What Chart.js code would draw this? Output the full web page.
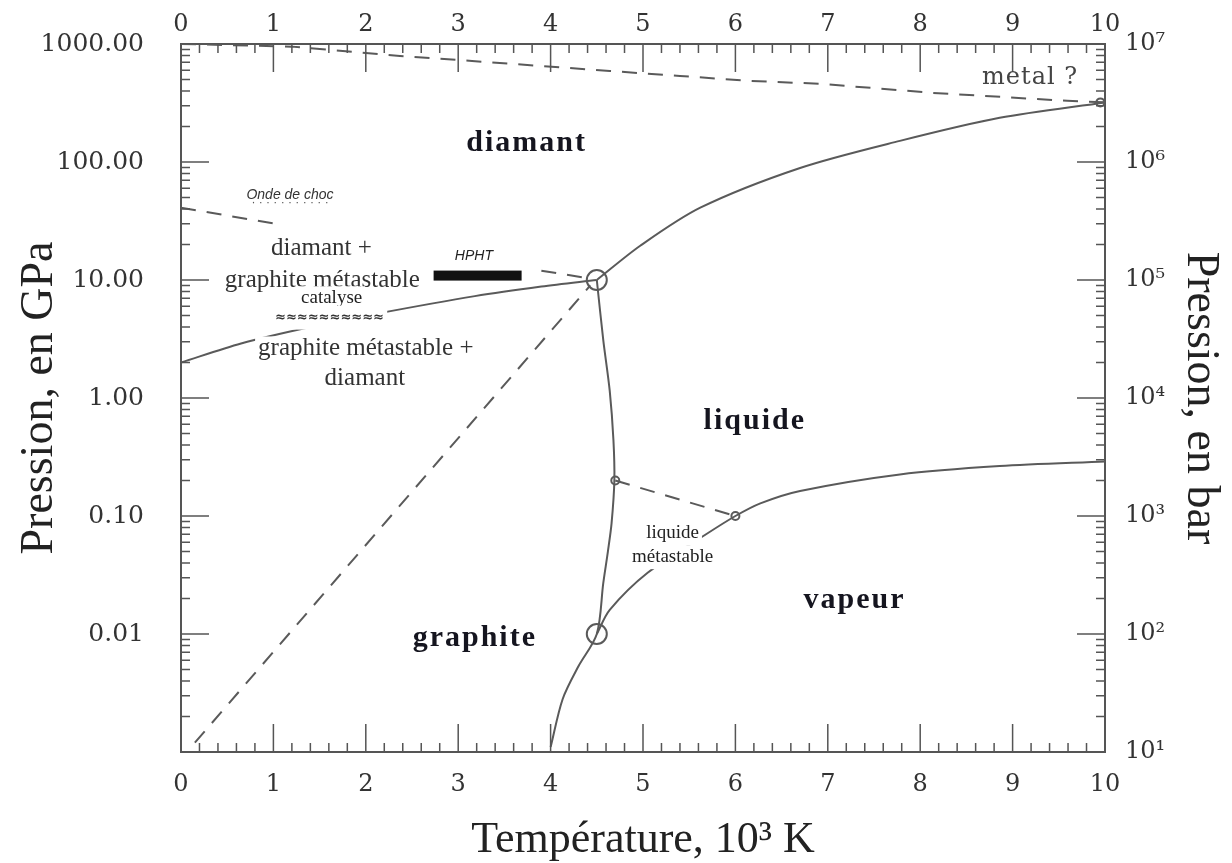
<!DOCTYPE html>
<html>
<head>
<meta charset="utf-8">
<script src="https://cdn.jsdelivr.net/npm/chart.js@4"></script>
<style>
  html, body { margin: 0; padding: 0; background: #fff; }
  #wrap { width: 1232px; height: 863px; position: relative; }
</style>
</head>
<body>
<div id="wrap"><canvas id="diagramme"></canvas></div>
<script>
// Diagramme de phases du carbone : T en 10^3 K, P en GPa
const temperatureTicks = [0, 1, 2, 3, 4, 5, 6, 7, 8, 9, 10];
const pressionTicksGPa = [0.01, 0.1, 1, 10, 100, 1000];
const pressionLabelsGPa = ['0.01', '0.10', '1.00', '10.00', '100.00', '1000.00'];
const pressionTicksBar = [1e1, 1e2, 1e3, 1e4, 1e5, 1e6, 1e7];
const pressionLabelsBar = ['10¹', '10²', '10³', '10⁴', '10⁵', '10⁶', '10⁷'];

// courbes d'équilibre (lignes pleines)
const tGraphiteDiamant = [0, 0.65, 1.4, 2.13, 3.18, 3.9, 4.5];
const pGraphiteDiamant = [2.0, 2.9, 4.0, 5.2, 7.3, 8.8, 10];

const tDiamantLiquide = [4.5, 4.97, 5.62, 6.7, 7.78, 8.86, 10];
const pDiamantLiquide = [10, 19.5, 41, 89, 151, 237, 320];

const tGraphiteLiquide = [4.5, 4.57, 4.64, 4.68, 4.69, 4.66, 4.62, 4.57, 4.5, 4.3, 4.13, 4.0];
const pGraphiteLiquide = [10, 3.1, 1.15, 0.44, 0.2, 0.087, 0.05, 0.027, 0.01, 0.0053, 0.0028, 0.0011];

const tLiquideVapeur = [4.5, 4.64, 5.05, 5.67, 6.0, 6.27, 6.7, 7.78, 8.86, 10];
const pLiquideVapeur = [0.01, 0.016, 0.033, 0.069, 0.1, 0.128, 0.163, 0.225, 0.265, 0.29];

// lignes en tirets
const tMetal = [0, 1.2, 2.37, 3.15, 3.88, 4.64, 5.4, 6.17, 6.92, 8.14, 9.59, 10];
const pMetal = [1000, 950, 791, 718, 652, 591, 536, 486, 460, 385, 330, 320];

const tGraphiteMetastable = [0.15, 4.43];
const pGraphiteMetastable = [0.0012, 9.0];

const tHPHT = [3.9, 4.45];
const pHPHT = [12.0, 10.2];

const tOndeChoc = [0, 1.02];
const pOndeChoc = [41, 30];

const tLiquideMetastable = [4.7, 6.0];
const pLiquideMetastable = [0.2, 0.1];

// points triples
const tPointsTriples = [4.5, 4.5, 4.7, 6.0, 9.95];
const pPointsTriples = [10, 0.01, 0.2, 0.1, 320];

// étiquettes [texte, T, P]
const etiquettesPhases = [['diamant', 3.74, 145], ['liquide', 6.21, 0.63], ['graphite', 3.18, 0.0092], ['vapeur', 7.29, 0.0194]];
const etiquettesNotes = [['diamant +', 1.52, 18.5], ['graphite métastable', 1.53, 9.9], ['graphite métastable +', 2.0, 2.63], ['diamant', 1.99, 1.47]];
const etiquettesPetites = [['catalyse', 1.63, 7.0], ['liquide', 5.32, 0.0716], ['métastable', 5.32, 0.0448]];
const etiquetteMetal = ['metal ?', 9.19, 516];
const etiquetteOnde = ['Onde de choc', 1.18, 52];
const etiquetteHPHT = ['HPHT', 3.17, 15.8];
const barreHPHT = [3.21, 10.9];
const hachuresCatalyse = [1.61, 4.8];

const pts = (ts, ps) => ts.map((t, i) => ({ x: t, y: ps[i] }));

const GRIS = '#5a5a5a';

function ligne(ts, ps, pointilles) {
    return {
        data: pts(ts, ps),
        borderColor: GRIS,
        borderWidth: 2,
        borderDash: pointilles ? [15, 11] : [],
        pointRadius: 0,
        tension: pointilles ? 0 : 0.3,
        fill: false
    };
}

const ticksInterieurs = {
    id: 'ticksInterieurs',
    afterDatasetsDraw(chart) {
        const { ctx, chartArea: a, scales: { x, y } } = chart;
        ctx.save();
        ctx.strokeStyle = '#555';
        ctx.lineWidth = 1.5;
        ctx.beginPath();
        for (let i = 0; i <= 50; i++) {
            const px = x.getPixelForValue(i / 5);
            const len = i % 5 === 0 ? 28 : 9;
            ctx.moveTo(px, a.bottom); ctx.lineTo(px, a.bottom - len);
            ctx.moveTo(px, a.top); ctx.lineTo(px, a.top + len);
        }
        for (let d = -3; d < 3; d++) {
            for (let m = 1; m < 10; m++) {
                const py = y.getPixelForValue(m * Math.pow(10, d));
                const len = m === 1 ? 28 : 9;
                ctx.moveTo(a.left, py); ctx.lineTo(a.left + len, py);
                ctx.moveTo(a.right, py); ctx.lineTo(a.right - len, py);
            }
        }
        ctx.stroke();
        ctx.restore();
    }
};

const etiquettes = {
    id: 'etiquettes',
    afterDatasetsDraw(chart) {
        const { ctx, scales: { x, y } } = chart;
        const texte = (e, font, couleur, fond, espacement) => {
            const px = x.getPixelForValue(e[1]);
            const py = y.getPixelForValue(e[2]);
            ctx.font = font;
            ctx.letterSpacing = espacement || '0px';
            ctx.textAlign = 'center';
            ctx.textBaseline = 'middle';
            if (fond) {
                const w = ctx.measureText(e[0]).width;
                ctx.fillStyle = '#fff';
                ctx.fillRect(px - w / 2 - 3, py - 12, w + 6, 24);
            }
            ctx.fillStyle = couleur;
            ctx.fillText(e[0], px, py);
        };
        ctx.save();
        etiquettesPhases.forEach(e => texte(e, "bold 30px 'Liberation Serif'", '#15151f', false, '2px'));
        etiquettesNotes.forEach(e => texte(e, "25px 'Liberation Serif'", '#333', true));
        etiquettesPetites.forEach(e => texte(e, "19px 'Liberation Serif'", '#222', true));
        texte(etiquetteMetal, "24px 'DejaVu Serif'", '#444', false, '1px');
        texte(etiquetteOnde, "italic 14px 'Liberation Sans'", '#333', false);
        texte(['· · · · · · · · · · ·', etiquetteOnde[1], etiquetteOnde[2] * 0.87], "12px 'Liberation Sans'", '#555', false);
        texte(etiquetteHPHT, "italic 14px 'Liberation Sans'", '#222', false);
        texte(['≈≈≈≈≈≈≈≈≈≈', hachuresCatalyse[0], hachuresCatalyse[1]], "bold italic 13px 'DejaVu Sans'", '#333', true);
        // barre HPHT
        const bx = x.getPixelForValue(barreHPHT[0]);
        const by = y.getPixelForValue(barreHPHT[1]);
        ctx.fillStyle = '#111';
        ctx.fillRect(bx - 44, by - 5, 88, 10);
        ctx.restore();
    }
};

const policeTicks = { family: 'DejaVu Serif', size: 24 };

new Chart(document.getElementById('diagramme'), {
    type: 'line',
    data: {
        datasets: [
            ligne(tGraphiteDiamant, pGraphiteDiamant, false),
            ligne(tDiamantLiquide, pDiamantLiquide, false),
            ligne(tGraphiteLiquide, pGraphiteLiquide, false),
            ligne(tLiquideVapeur, pLiquideVapeur, false),
            ligne(tMetal, pMetal, true),
            ligne(tGraphiteMetastable, pGraphiteMetastable, true),
            ligne(tHPHT, pHPHT, true),
            ligne(tOndeChoc, pOndeChoc, true),
            ligne(tLiquideMetastable, pLiquideMetastable, true),
            {
                data: pts(tPointsTriples, pPointsTriples),
                showLine: false,
                pointRadius: [10, 10, 4, 4, 4],
                pointBorderWidth: 2,
                pointBorderColor: GRIS,
                pointBackgroundColor: 'rgba(255,255,255,0)',
                clip: false
            }
        ]
    },
    options: {
        responsive: true,
        maintainAspectRatio: false,
        animation: false,
        layout: { padding: 0 },
        plugins: { legend: { display: false }, tooltip: { enabled: false } },
        scales: {
            x: {
                type: 'linear', position: 'bottom', min: 0, max: 10,
                afterFit: s => { s.height = 111; },
                afterBuildTicks: s => { s.ticks = temperatureTicks.map(v => ({ value: v })); },
                grid: { display: false },
                border: { display: true, color: '#555', width: 2 },
                ticks: { font: policeTicks, color: '#333', padding: 10, maxRotation: 0, autoSkip: false },
                title: {
                    display: true, text: 'Température, 10³ K', color: '#222',
                    font: { family: 'Liberation Serif', size: 44, lineHeight: 1 },
                    padding: { top: 0, bottom: 1 }
                }
            },
            x2: {
                type: 'linear', position: 'top', min: 0, max: 10,
                afterFit: s => { s.height = 43; },
                afterBuildTicks: s => { s.ticks = temperatureTicks.map(v => ({ value: v })); },
                grid: { display: false },
                border: { display: true, color: '#555', width: 2 },
                ticks: { font: policeTicks, color: '#333', padding: -3, maxRotation: 0, autoSkip: false }
            },
            y: {
                type: 'logarithmic', position: 'left', min: 0.001, max: 1000,
                afterFit: s => { s.width = 181; },
                afterBuildTicks: s => { s.ticks = pressionTicksGPa.map(v => ({ value: v })); },
                grid: { display: false },
                border: { display: true, color: '#555', width: 2 },
                ticks: {
                    font: { family: 'DejaVu Serif', size: 25 }, color: '#333', padding: 29, autoSkip: false,
                    callback: (v, i) => pressionLabelsGPa[i]
                },
                title: {
                    display: true, text: 'Pression, en GPa', color: '#222',
                    font: { family: 'Liberation Serif', size: 46, lineHeight: 1 },
                    padding: { top: 17, bottom: 0 }
                }
            },
            y2: {
                type: 'logarithmic', position: 'right', min: 10, max: 1e7,
                afterFit: s => { s.width = 127; },
                afterBuildTicks: s => { s.ticks = pressionTicksBar.map(v => ({ value: v })); },
                grid: { display: false },
                border: { display: true, color: '#555', width: 2 },
                ticks: {
                    font: policeTicks, color: '#333', padding: 12, autoSkip: false,
                    callback: (v, i) => pressionLabelsBar[i]
                },
                title: {
                    display: true, text: 'Pression, en bar', color: '#222',
                    font: { family: 'Liberation Serif', size: 46, lineHeight: 1 },
                    padding: { top: 9, bottom: 0 }
                }
            }
        }
    },
    plugins: [ticksInterieurs, etiquettes]
});
</script>
</body>
</html>
